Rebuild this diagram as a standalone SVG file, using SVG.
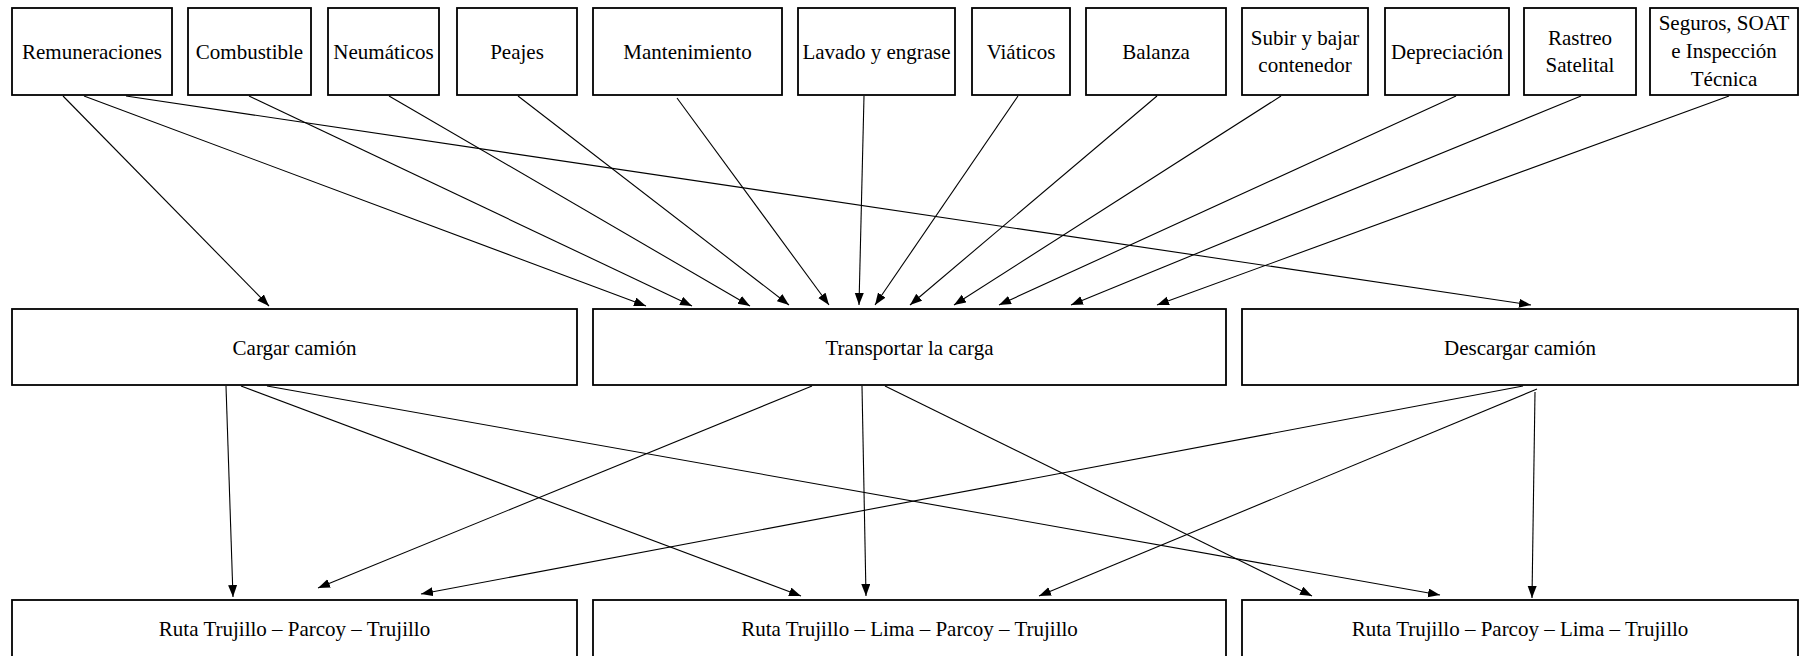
<svg xmlns="http://www.w3.org/2000/svg" width="1800" height="656" viewBox="0 0 1800 656">
<defs>
<marker id="ah" markerUnits="userSpaceOnUse" markerWidth="13" markerHeight="10" refX="12" refY="4.5" orient="auto">
<path d="M0,0 L12,4.5 L0,9 z" fill="#000"/>
</marker>
<style>
.box{fill:#fff;stroke:#000;stroke-width:1.8}
.t{font-family:"Liberation Serif","Times New Roman",serif;font-size:21px;fill:#000;text-anchor:middle}
.c line{stroke:#000;stroke-width:1.1;marker-end:url(#ah)}
</style>
</defs>
<rect width="1800" height="656" fill="#fff"/>
<g class="c" id="connectors">
<line x1="63" y1="96" x2="269" y2="306"/>
<line x1="84" y1="96" x2="646" y2="306"/>
<line x1="126" y1="96" x2="1531" y2="305"/>
<line x1="249" y1="96" x2="692" y2="306"/>
<line x1="389" y1="96" x2="750" y2="306"/>
<line x1="518" y1="96" x2="789" y2="305"/>
<line x1="677" y1="98" x2="829" y2="305"/>
<line x1="864" y1="96" x2="859" y2="305"/>
<line x1="1018" y1="96" x2="875" y2="305"/>
<line x1="1157" y1="96" x2="910" y2="305"/>
<line x1="1281" y1="96" x2="954" y2="305"/>
<line x1="1456" y1="96" x2="999" y2="305"/>
<line x1="1581" y1="96" x2="1071" y2="305"/>
<line x1="1729" y1="96" x2="1157" y2="305"/>
<line x1="226" y1="386" x2="233" y2="597"/>
<line x1="241" y1="386" x2="801" y2="596"/>
<line x1="267" y1="386" x2="1440" y2="595"/>
<line x1="812" y1="386" x2="318" y2="588"/>
<line x1="862" y1="386" x2="866" y2="596"/>
<line x1="885" y1="386" x2="1312" y2="596"/>
<line x1="1523" y1="386" x2="421" y2="594"/>
<line x1="1537" y1="389" x2="1039" y2="596"/>
<line x1="1535" y1="392" x2="1532" y2="598"/>
</g>
<g id="n1"><rect class="box" x="12" y="8" width="160" height="87"/><text class="t" x="92" y="59">Remuneraciones</text></g>
<g id="n2"><rect class="box" x="188" y="8" width="123" height="87"/><text class="t" x="249.5" y="59">Combustible</text></g>
<g id="n3"><rect class="box" x="328" y="8" width="111" height="87"/><text class="t" x="383.5" y="59">Neumáticos</text></g>
<g id="n4"><rect class="box" x="457" y="8" width="120" height="87"/><text class="t" x="517" y="59">Peajes</text></g>
<g id="n5"><rect class="box" x="593" y="8" width="189" height="87"/><text class="t" x="687.5" y="59">Mantenimiento</text></g>
<g id="n6"><rect class="box" x="798" y="8" width="157" height="87"/><text class="t" x="876.5" y="59">Lavado y engrase</text></g>
<g id="n7"><rect class="box" x="972" y="8" width="98" height="87"/><text class="t" x="1021" y="59">Viáticos</text></g>
<g id="n8"><rect class="box" x="1086" y="8" width="140" height="87"/><text class="t" x="1156" y="59">Balanza</text></g>
<g id="n9"><rect class="box" x="1242" y="8" width="126" height="87"/><text class="t" x="1305" y="45">Subir y bajar</text><text class="t" x="1305" y="72">contenedor</text></g>
<g id="n10"><rect class="box" x="1385" y="8" width="124" height="87"/><text class="t" x="1447" y="59">Depreciación</text></g>
<g id="n11"><rect class="box" x="1524" y="8" width="112" height="87"/><text class="t" x="1580" y="45">Rastreo</text><text class="t" x="1580" y="72">Satelital</text></g>
<g id="n12"><rect class="box" x="1650" y="8" width="148" height="87"/><text class="t" x="1724" y="30">Seguros, SOAT</text><text class="t" x="1724" y="58">e Inspección</text><text class="t" x="1724" y="86">Técnica</text></g>
<g id="m1"><rect class="box" x="12" y="309" width="565" height="76"/><text class="t" x="294.5" y="355">Cargar camión</text></g>
<g id="m2"><rect class="box" x="593" y="309" width="633" height="76"/><text class="t" x="909.5" y="355">Transportar la carga</text></g>
<g id="m3"><rect class="box" x="1242" y="309" width="556" height="76"/><text class="t" x="1520" y="355">Descargar camión</text></g>
<g id="b1"><rect class="box" x="12" y="600" width="565" height="80"/><text class="t" x="294.5" y="636">Ruta Trujillo – Parcoy – Trujillo</text></g>
<g id="b2"><rect class="box" x="593" y="600" width="633" height="80"/><text class="t" x="909.5" y="636">Ruta Trujillo – Lima – Parcoy – Trujillo</text></g>
<g id="b3"><rect class="box" x="1242" y="600" width="556" height="80"/><text class="t" x="1520" y="636">Ruta Trujillo – Parcoy – Lima – Trujillo</text></g>
</svg>
